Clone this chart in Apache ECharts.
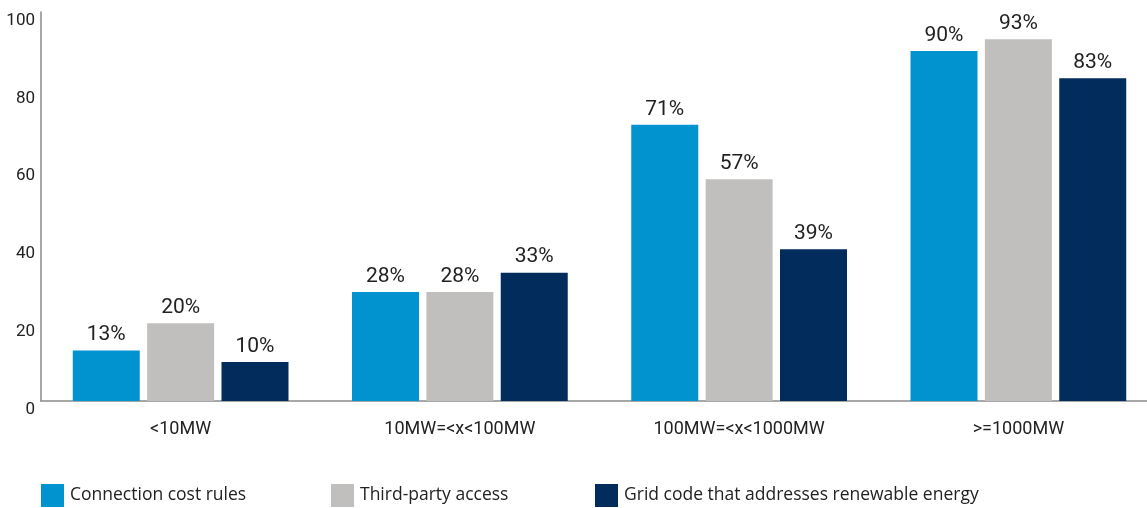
<!DOCTYPE html>
<html><head><meta charset="utf-8">
<script src="https://cdn.jsdelivr.net/npm/echarts@6/dist/echarts.min.js"></script>
<style>html,body{margin:0;padding:0;background:#fff;overflow:hidden}#c{width:1170px;height:508px}</style>
</head><body><div id="c"></div>
<script>
const categories = ['<10MW', '10MW=<x<100MW', '100MW=<x<1000MW', '>=1000MW'];
const seriesNames = ['Connection cost rules', 'Third-party access', 'Grid code that addresses renewable energy'];
const connectionCost = [13, 28, 71, 90];
const thirdParty = [20, 28, 57, 93];
const gridCode = [10, 33, 39, 83];
const yTicks = [0, 20, 40, 60, 80, 100];
const colors = ['#0093D0', '#C0BFBD', '#022C5B'];

const narrow = 'Roboto, "Liberation Sans Narrow", sans-serif';
const chart = echarts.init(document.getElementById('c'), null, {renderer: 'canvas'});
const vals = [connectionCost, thirdParty, gridCode];
chart.setOption({
  animation: false,
  grid: {left: 41, top: 12, width: 1117, height: 389, containLabel: false},
  xAxis: {
    type: 'category', data: categories,
    axisLine: {lineStyle: {color: '#8a8a8a', width: 1.5}},
    axisTick: {show: false},
    axisLabel: {color: '#222', fontFamily: narrow, fontSize: 18, margin: 19}
  },
  yAxis: {
    type: 'value', min: 0, max: yTicks[yTicks.length - 1], interval: 20,
    splitLine: {show: false},
    axisLine: {show: true, lineStyle: {color: '#8a8a8a', width: 1.5}},
    axisTick: {show: false},
    axisLabel: {color: '#222', fontFamily: narrow, fontSize: 17, margin: 6, verticalAlign: 'top', padding: [0, 0, 0, 0]}
  },
  legend: seriesNames.map((n, i) => ({
    data: [n], left: [41, 331, 595][i], top: 484, padding: 0,
    itemWidth: 23, itemHeight: 23, itemGap: 0,
    icon: 'rect',
    textStyle: {fontFamily: '"Open Sans", "Noto Sans", sans-serif', fontSize: 17.5, color: '#222', padding: [0, 0, 0, 1]}
  })),
  series: seriesNames.map((n, i) => ({
    name: n, type: 'bar', data: vals[i],
    barWidth: 67, barGap: '11%',
    itemStyle: {color: colors[i]},
    label: {show: true, position: 'top', distance: 5, formatter: '{c}%', color: '#222', fontFamily: narrow, fontSize: 21}
  }))
});
</script></body></html>
